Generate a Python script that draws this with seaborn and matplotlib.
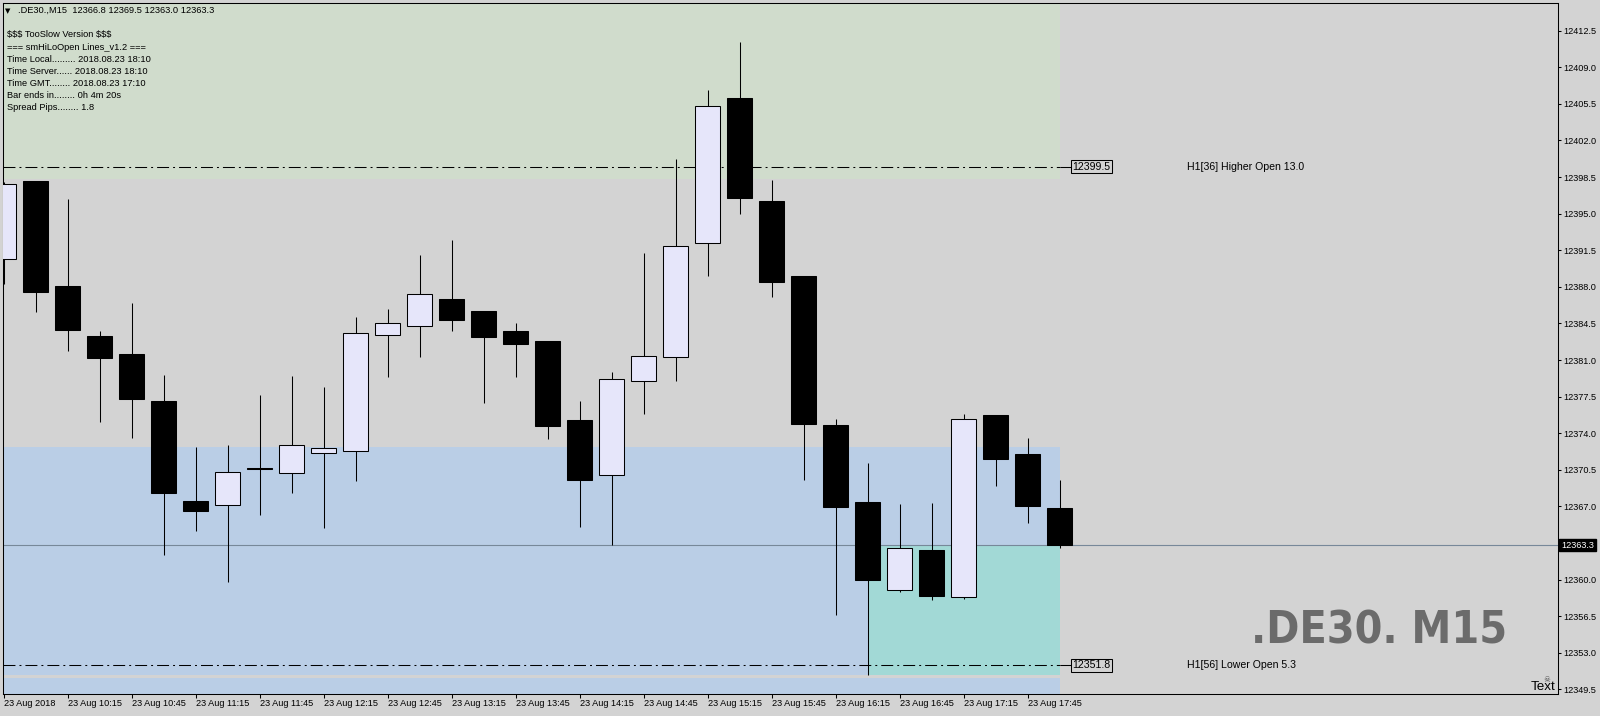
import matplotlib
matplotlib.use('Agg')
import matplotlib.pyplot as plt
import seaborn as sns
import numpy as np

# ---- data: .DE30 M15 bars, 23 Aug 2018 09:45 .. 18:00
bar_times = ['09:45', '10:00', '10:15', '10:30', '10:45', '11:00', '11:15', '11:30',
             '11:45', '12:00', '12:15', '12:30', '12:45', '13:00', '13:15', '13:30',
             '13:45', '14:00', '14:15', '14:30', '14:45', '15:00', '15:15', '15:30',
             '15:45', '16:00', '16:15', '16:30', '16:45', '17:00', '17:15', '17:30',
             '17:45', '18:00']
opens = [12390.7, 12398.1, 12388.1, 12383.3, 12381.6, 12377.1, 12367.5, 12367.1,
         12370.7, 12370.2, 12372.1, 12372.3, 12383.4, 12384.3, 12386.8, 12385.7,
         12383.8, 12382.8, 12375.3, 12370.0, 12379.0, 12381.3, 12392.2, 12406.1,
         12396.2, 12389.0, 12374.8, 12367.4, 12359.0, 12362.8, 12358.3, 12375.7,
         12372.0, 12366.8]
highs = [12398.0, 12398.1, 12396.4, 12383.8, 12386.5, 12379.6, 12372.7, 12372.9,
         12377.7, 12379.5, 12378.4, 12385.1, 12385.9, 12391.0, 12392.5, 12385.7,
         12384.5, 12382.8, 12377.1, 12379.9, 12391.2, 12400.2, 12406.8, 12411.4,
         12398.2, 12389.0, 12375.4, 12371.1, 12367.2, 12367.3, 12375.8, 12375.7,
         12373.5, 12369.5]
lows = [12388.3, 12385.6, 12381.9, 12375.1, 12373.5, 12362.3, 12364.6, 12359.8,
        12366.2, 12368.3, 12364.9, 12369.4, 12379.4, 12381.3, 12383.8, 12376.9,
        12379.4, 12373.4, 12365.0, 12363.3, 12375.8, 12379.0, 12389.0, 12395.0,
        12387.0, 12369.5, 12356.6, 12350.9, 12358.8, 12358.0, 12358.1, 12368.9,
        12365.4, 12363.0]
closes = [12397.8, 12387.5, 12383.9, 12381.2, 12377.3, 12368.3, 12366.6, 12370.3,
          12370.6, 12372.9, 12372.6, 12383.6, 12384.5, 12387.3, 12384.8, 12383.2,
          12382.5, 12374.7, 12369.5, 12379.2, 12381.4, 12391.9, 12405.3, 12396.5,
          12388.5, 12374.9, 12366.9, 12360.0, 12363.0, 12358.4, 12375.4, 12371.5,
          12367.0, 12363.3]

price_ticks = [12349.5, 12353.0, 12356.5, 12360.0, 12363.5, 12367.0, 12370.5, 12374.0,
               12377.5, 12381.0, 12384.5, 12388.0, 12391.5, 12395.0, 12398.5, 12402.0,
               12405.5, 12409.0, 12412.5]
time_tick_labels = ['23 Aug 2018', '23 Aug 10:15', '23 Aug 10:45', '23 Aug 11:15',
                    '23 Aug 11:45', '23 Aug 12:15', '23 Aug 12:45', '23 Aug 13:15',
                    '23 Aug 13:45', '23 Aug 14:15', '23 Aug 14:45', '23 Aug 15:15',
                    '23 Aug 15:45', '23 Aug 16:15', '23 Aug 16:45', '23 Aug 17:15',
                    '23 Aug 17:45']

current_price = 12363.3
higher_open = 12399.5
lower_open = 12351.8
higher_label = 'H1[36] Higher Open 13.0'
lower_label = 'H1[56] Lower Open 5.3'
green_zone = (12398.3, 12416.0)
blue_zone = (12350.9, 12372.7)
blue_zone_low = (12340.0, 12350.55)
teal_zone = (12350.9, 12363.3)
teal_start_bar = 27

info_lines = ['$$$ TooSlow Version $$$',
              '=== smHiLoOpen Lines_v1.2 ===',
              'Time Local......... 2018.08.23 18:10',
              'Time Server...... 2018.08.23 18:10',
              'Time GMT........ 2018.08.23 17:10',
              'Bar ends in........ 0h 4m 20s',
              'Spread Pips........ 1.8']

# ---- style
BG = '#d3d3d3'
GREEN = '#d0dccc'
BLUE = '#bacee6'
TEAL = '#a2d9d6'
BULL = '#e6e6fa'
PRICE_LINE = '#778899'

sns.set_theme(style='ticks', rc={
    'figure.facecolor': BG, 'axes.facecolor': BG, 'savefig.facecolor': BG,
    'axes.edgecolor': 'black', 'axes.linewidth': 0.75,
    'xtick.color': 'black', 'ytick.color': 'black',
    'xtick.major.size': 2.9, 'ytick.major.size': 2.2,
    'xtick.major.width': 0.75, 'ytick.major.width': 0.75,
    'lines.scale_dashes': False,
    'text.parse_math': False,
})
plt.rcParams['font.family'] = ['Liberation Sans', 'DejaVu Sans']

W, H = 1600, 716
fig = plt.figure(figsize=(W / 100, H / 100), dpi=100)
L, R, T, B = 2.7, 1557.7, 2.7, 694.0
ax = fig.add_axes([L / W, 1 - B / H, (R - L) / W, (B - T) / H])


def fxy(x, y):
    return x / W, 1 - y / H


x = np.arange(len(bar_times))
last = x[-1]
o = np.array(opens)
c = np.array(closes)
bull = c >= o

# zones
ax.fill_between([-1, last], *green_zone, color=GREEN, lw=0, zorder=0)
ax.fill_between([-1, last], *blue_zone, color=BLUE, lw=0, zorder=0)
ax.fill_between([-1, last], *blue_zone_low, color=BLUE, lw=0, zorder=0)
ax.fill_between([teal_start_bar, last], *teal_zone, color=TEAL, lw=0, zorder=0.5)

# open level lines
dashdot = (0, (8.6, 2.9, 1.4, 2.9))
for lvl in (higher_open, lower_open):
    ax.hlines(lvl, -0.02, last, colors='black', linestyles=dashdot, lw=0.75, zorder=1)
    ax.hlines(lvl, last, last + 0.36, colors='black', lw=0.75, zorder=1)

ax.axhline(current_price, color=PRICE_LINE, lw=0.8, zorder=1.2)

# candles
ax.vlines(x, lows, highs, colors='black', lw=0.75, zorder=2)
body_w = 0.76
ax.bar(x[bull], (c - o)[bull], bottom=o[bull], width=body_w, color=BULL,
       edgecolor='black', linewidth=0.75, zorder=3)
ax.bar(x[~bull], (o - c)[~bull], bottom=c[~bull], width=body_w, color='black',
       edgecolor='black', linewidth=0.75, zorder=3)

ax.set_xlim((L - 3.5) / 32, (R - 3.5) / 32)
ax.set_ylim(12349.05, 12415.18)

# axes / ticks
for s in ax.spines.values():
    s.set_visible(True)
ax.yaxis.tick_right()
ax.set_yticks(price_ticks)
ax.set_yticklabels([f'{p:.1f}' for p in price_ticks])
ax.tick_params(axis='y', labelsize=6.6, pad=1.9)
ax.set_xticks(x[::2])
ax.set_xticklabels(time_tick_labels, ha='left')
ax.tick_params(axis='x', labelsize=6.6, pad=1.0)
ax.grid(False)

ax.annotate(f'{current_price:.1f}', xy=(1, current_price),
            xycoords=('axes fraction', 'data'), xytext=(2.4, 0),
            textcoords='offset points', ha='left', va='center', fontsize=6.6,
            color='white', bbox=dict(boxstyle='square,pad=0.2', fc='black', ec='black'),
            annotation_clip=False)

# level labels
for lvl, txt in ((higher_open, higher_label), (lower_open, lower_label)):
    ax.annotate(f'{lvl:.1f}', xy=(last + 0.4, lvl), ha='left', va='center',
                fontsize=7.6, color='black',
                bbox=dict(boxstyle='square,pad=0.12', fc='none', ec='black', lw=0.75))
    ax.text(last + 3.98, lvl, txt, ha='left', va='center', fontsize=7.6, color='black')

# header + info panel
fig.text(*fxy(5, 10.7), '\u25bc', fontsize=5, va='center', ha='left', color='black',
         family='DejaVu Sans')
fig.text(*fxy(18, 10.7), '.DE30.,M15  12366.8 12369.5 12363.0 12363.3',
         fontsize=6.7, va='center', ha='left', color='black')
for k, line in enumerate(info_lines):
    fig.text(*fxy(7.3, 35 + 12 * k), line, fontsize=6.7, va='center', ha='left',
             color='black')

fig.text(*fxy(1507, 644), '.DE30. M15', ha='right', va='baseline', fontsize=32,
         fontweight='bold', fontstretch='condensed', color='#6b6b6b',
         family='DejaVu Sans')
fig.text(*fxy(1546.5, 679), '\u2620', ha='center', va='center', fontsize=5.5,
         color='#505050', family='DejaVu Sans')
fig.text(*fxy(1531, 687), 'Text', ha='left', va='center', fontsize=9.6, color='black')

fig.savefig('out.png', dpi=100)
